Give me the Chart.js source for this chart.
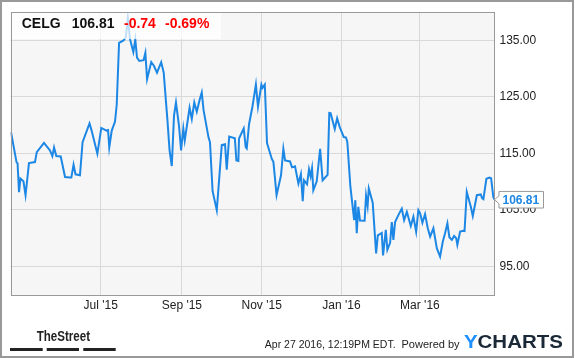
<!DOCTYPE html>
<html><head><meta charset="utf-8">
<script src="https://cdn.jsdelivr.net/npm/chart.js@4.4.1/dist/chart.umd.min.js"></script>
<style>html,body{margin:0;padding:0;background:#fff;overflow:hidden}#wrap{width:575px;height:358px;position:relative}canvas{display:block}</style>
</head><body><div id="wrap"><canvas id="c" width="575" height="358"></canvas></div>
<script>
const ticker = "CELG";
const lastPrice = "106.81";
const change = "-0.74";
const changePct = "-0.69%";
const stamp = "Apr 27 2016, 12:19PM EDT.";
// days since 2015-04-23
const days = [0.4,4.6,5.4,6.5,7.6,9.9,11.5,13.0,14.1,18.7,
20.1,25.6,30.2,32.0,33.3,35.0,38.4,41.7,45.5,46.5,
48.2,49.7,53.1,55.1,60.4,61.9,66.4,69.4,73.4,74.6,
75.5,77.4,79.9,81.2,83.0,86.4,88.2,89.7,91.4,93.9,
95.4,96.7,98.5,101.7,103.1,104.4,107.6,109.7,112.0,115.2,
117.1,120.0,121.6,123.3,125.0,126.5,128.8,130.4,132.1,133.2,
136.9,138.6,140.5,142.4,144.5,146.2,147.6,151.4,152.5,154.5,
157.7,161.5,164.0,165.3,167.2,171.5,172.7,174.2,174.7,178.3,
179.8,180.6,182.4,185.0,187.6,189.2,191.8,192.7,194.4,196.1,
199.7,201.0,203.4,206.8,208.6,209.9,213.7,215.2,217.5,220.1,
222.0,223.4,224.4,226.7,228.2,229.4,230.5,231.5,234.1,236.7,
238.6,242.4,243.7,244.7,247.9,249.7,251.7,254.8,256.5,257.5,
259.8,262.7,263.6,264.7,265.9,267.2,270.7,271.8,273.0,273.9,
276.9,279.5,280.8,283.8,284.8,286.9,288.1,290.2,291.5,292.7,
294.0,296.5,299.1,300.9,303.0,306.0,308.0,310.1,311.8,313.1,
314.9,316.9,319.0,320.8,323.3,325.9,328.4,330.5,332.2,334.0,
335.5,337.4,339.1,340.7,341.6,343.7,346.2,347.1,348.8,351.9,
353.4,356.5,359.5,360.5,361.5,363.8,366.1,367.4,369.1,370.0];
const prices = [118.75,113.47,113.24,108.14,110.55,110.07,107.61,110.83,113.29,113.47,
115.23,116.88,115.53,114.53,116.06,114.53,114.47,110.83,110.73,110.73,
113.01,111.31,111.13,116.99,120.33,119.13,114.95,119.52,119.05,119.13,
116.06,119.05,120.63,123.62,134.58,135.0,135.58,139.01,135.18,132.94,
135.18,131.97,131.36,131.5,132.82,128.14,131.18,130.48,129.3,131.15,
129.34,120.8,115.53,112.77,121.68,124.02,119.93,115.53,119.4,117.29,
123.09,121.1,124.02,122.39,124.41,125.78,122.65,117.81,116.99,108.32,
104.97,116.5,116.64,112.13,117.99,117.67,113.77,113.68,117.64,119.43,
116.11,115.88,120.22,123.36,127.19,123.27,127.19,126.61,127.19,116.85,
114.07,113.47,107.61,111.13,115.83,113.77,113.59,112.54,112.71,109.67,
111.34,106.56,110.25,109.55,112.19,110.95,112.41,108.49,110.07,115.83,
110.25,111.22,122.16,122.12,119.34,121.24,119.66,117.9,117.81,116.99,
109.2,103.21,106.73,100.88,105.55,103.13,103.09,107.52,105.68,108.79,
106.29,97.29,100.49,100.93,96.97,101.46,97.94,99.17,102.86,99.7,
102.86,104.09,105.24,103.21,104.67,102.16,103.8,101.16,104.97,104.45,
102.74,104.27,101.75,100.28,101.75,98.24,96.76,99.4,100.88,102.63,
100.17,99.7,100.4,100.0,98.82,101.16,101.33,101.28,108.19,105.55,
103.92,107.61,107.74,107.08,106.91,110.51,110.73,110.6,107.31,106.81];
const xTickDays = [69,131,192,253,313];
const xTickLabels = ["Jul '15","Sep '15","Nov '15","Jan '16","Mar '16"];
const yTicks = [95,105,115,125,135];

const FONT = "'Liberation Sans', Arial, sans-serif";
const BLUE = '#1c87e5';

const deco = {
  id: 'deco',
  beforeDraw(chart) {
    const ctx = chart.ctx, a = chart.chartArea;
    ctx.save();
    ctx.fillStyle = '#fff';
    ctx.fillRect(0, 0, chart.width, chart.height);
    ctx.fillStyle = '#f6f6f6';
    ctx.fillRect(a.left, a.top, a.right - a.left, a.bottom - a.top);
    ctx.restore();
  },
  afterDatasetsDraw(chart) {
    const ctx = chart.ctx, a = chart.chartArea;
    ctx.save();
    // plot border
    ctx.strokeStyle = '#999';
    ctx.lineWidth = 1;
    ctx.strokeRect(Math.round(a.left) + 0.5, Math.round(a.top) + 0.5, Math.round(a.right - a.left) - 1, Math.round(a.bottom - a.top));
    // title box
    ctx.fillStyle = 'rgba(255,255,255,0.72)';
    ctx.fillRect(Math.round(a.left) + 1, Math.round(a.top) + 1, 209, 26);
    ctx.textBaseline = 'alphabetic';
    ctx.textAlign = 'left';
    ctx.font = 'bold 14px ' + FONT;
    ctx.fillStyle = '#111';
    ctx.fillText(ticker, 21.7, 28.3);
    ctx.fillText(lastPrice, 71.7, 28.3);
    ctx.fillStyle = '#ff0000';
    ctx.fillText(change, 124, 28.3);
    ctx.fillText(changePct, 165, 28.3);
    // price tag
    const ys = chart.scales.y;
    const py = ys.getPixelForValue(prices[prices.length - 1]);
    const tip = a.right;
    const bx = tip + 4.5, bw = 44.5, bh = 16.6;
    const top = py - bh / 2;
    ctx.beginPath();
    ctx.moveTo(bx, top);
    ctx.lineTo(bx + bw, top);
    ctx.lineTo(bx + bw, top + bh);
    ctx.lineTo(bx, top + bh);
    ctx.lineTo(bx, py + 4);
    ctx.lineTo(tip, py);
    ctx.lineTo(bx, py - 4);
    ctx.closePath();
    ctx.fillStyle = '#fff';
    ctx.fill();
    ctx.strokeStyle = '#999';
    ctx.lineWidth = 1;
    ctx.stroke();
    ctx.font = 'bold 12px ' + FONT;
    ctx.fillStyle = BLUE;
    ctx.textBaseline = 'middle';
    ctx.fillText(lastPrice, bx + 3.5, py + 0.5);
    ctx.restore();
  },
  afterDraw(chart) {
    const ctx = chart.ctx;
    ctx.save();
    // TheStreet logo
    ctx.fillStyle = '#222';
    ctx.textBaseline = 'alphabetic';
    ctx.textAlign = 'left';
    ctx.font = "bold 14px 'Liberation Sans Narrow', 'Liberation Sans', Arial, sans-serif";
    let w = ctx.measureText('TheStreet').width;
    ctx.save();
    ctx.translate(36.7, 340.7);
    ctx.scale(53.3 / w, 1);
    ctx.fillText('TheStreet', 0, 0);
    ctx.restore();
    ctx.fillRect(10, 348, 32.7, 3);
    ctx.fillRect(46.7, 348, 32.3, 3);
    ctx.fillRect(83.3, 348, 32.4, 3);
    // stamp
    ctx.fillStyle = '#222';
    ctx.font = '10.5px ' + FONT;
    ctx.fillText(stamp, 264.8, 348.3);
    ctx.font = '11px ' + FONT;
    ctx.fillText('Powered by', 401.5, 348.3);
    // YCHARTS
    ctx.font = 'bold 18.5px ' + FONT;
    const wy = ctx.measureText('Y').width, wc = ctx.measureText('CHARTS').width;
    const sx = 99 / (wy + wc);
    ctx.save();
    ctx.translate(463.9, 348.3);
    ctx.scale(sx, 1);
    ctx.fillStyle = '#1e90ff';
    ctx.fillText('Y', 0, 0);
    ctx.fillStyle = '#1b2838';
    ctx.fillText('CHARTS', wy, 0);
    ctx.restore();
    // outer border
    ctx.strokeStyle = '#999';
    ctx.lineWidth = 2;
    ctx.strokeRect(1, 1, 572, 356);
    ctx.restore();
  }
};

new Chart(document.getElementById('c'), {
  type: 'line',
  data: {
    datasets: [{
      data: days.map((d, i) => ({ x: d, y: prices[i] })),
      borderColor: BLUE,
      borderWidth: 2,
      pointRadius: 0,
      tension: 0,
      fill: false
    }]
  },
  options: {
    responsive: false,
    animation: false,
    devicePixelRatio: 1,
    layout: { padding: { left: 10.5, top: 10.7, right: 0, bottom: 0 } },
    plugins: { legend: { display: false }, tooltip: { enabled: false } },
    scales: {
      x: {
        type: 'linear', position: 'bottom', min: 0, max: 370,
        afterBuildTicks: s => { s.ticks = xTickDays.map(v => ({ value: v })); },
        afterFit: s => { s.height = 63.3; },
        grid: { color: '#d9d9d9', drawTicks: false, lineWidth: 1 },
        border: { display: false },
        ticks: {
          padding: 4, color: '#222', maxRotation: 0, autoSkip: false,
          font: { family: FONT, size: 12 },
          callback: (v) => { const i = xTickDays.indexOf(v); return i >= 0 ? xTickLabels[i] : ''; }
        }
      },
      y: {
        type: 'linear', position: 'right', min: 90, max: 140,
        afterBuildTicks: s => { s.ticks = yTicks.map(v => ({ value: v })); },
        afterFit: s => { s.width = 80.5; },
        grid: { color: '#d9d9d9', drawTicks: false, lineWidth: 1 },
        border: { display: false },
        ticks: {
          padding: 5, color: '#222',
          font: { family: FONT, size: 12 },
          callback: (v) => Number(v).toFixed(2)
        }
      }
    }
  },
  plugins: [deco]
});
</script>
</body></html>
